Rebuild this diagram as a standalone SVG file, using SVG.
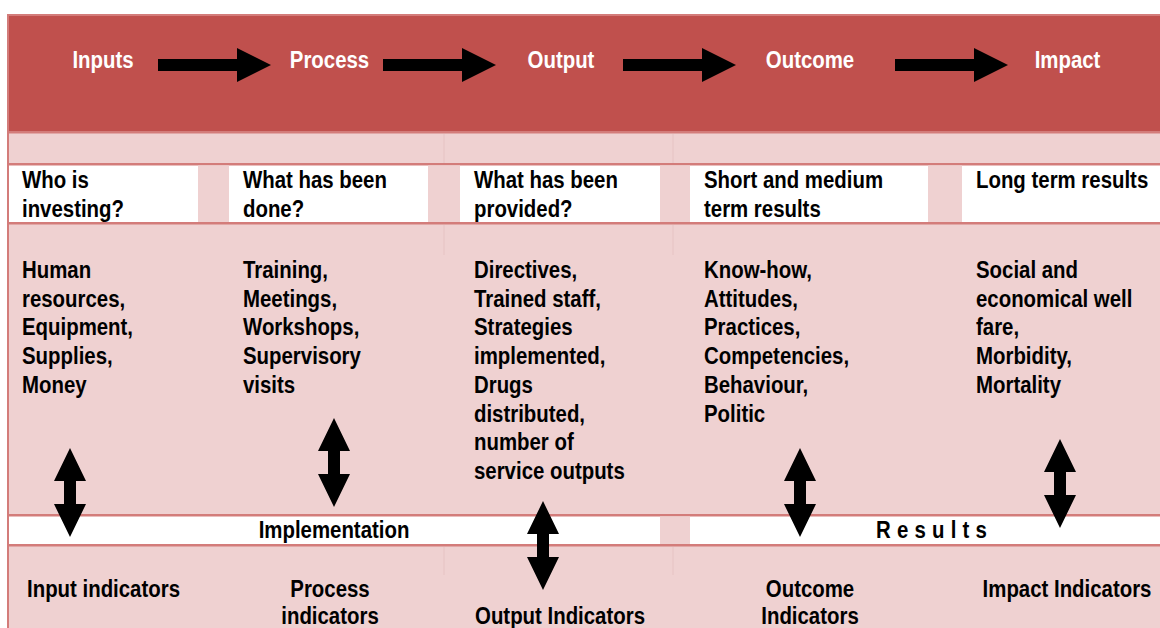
<svg xmlns="http://www.w3.org/2000/svg" xmlns:xlink="http://www.w3.org/1999/xlink" width="1160" height="628" viewBox="0 0 1160 628">
<style>
.band{fill:#C0504D}
.pink{fill:#EFD1D1}
.white{fill:#FFFFFF}
.rule{fill:#D37C7A}
.t{font-family:"Liberation Sans",Arial,sans-serif;font-weight:bold;font-size:24px;fill:#000}
.h{fill:#FFFFFF;text-anchor:middle}
.c{text-anchor:middle}
.arrow{fill:#000}
.faint{stroke:#E6C3C3;stroke-width:1}
</style>
<defs>
<path id="harrow" d="M0,-6 H79 V-17 L113,0 L79,17 V6 H0 Z"/>
<path id="darrow" d="M0,0 L16,33 H6 V56 H16 L0,89 L-16,56 H-6 V33 H-16 Z"/>
</defs>
<rect width="1160" height="628" class="white"/>
<g id="table">
<rect x="7" y="14" width="1153" height="614" class="rule"/>
<rect x="9" y="16" width="1151" height="115" class="band"/>
<rect x="9" y="133.5" width="1151" height="29.5" class="pink"/>
<rect x="9" y="165.5" width="1151" height="56.5" class="white"/>
<rect x="198" y="165.5" width="31" height="56.5" class="pink"/>
<rect x="428" y="165.5" width="32" height="56.5" class="pink"/>
<rect x="660" y="165.5" width="30" height="56.5" class="pink"/>
<rect x="928" y="165.5" width="34" height="56.5" class="pink"/>
<rect x="9" y="224.5" width="1151" height="289.5" class="pink"/>
<rect x="9" y="516.5" width="1151" height="27.5" class="white"/>
<rect x="660" y="516.5" width="30" height="27.5" class="pink"/>
<rect x="9" y="546.5" width="1151" height="81.5" class="pink"/>
<line x1="444" y1="134" x2="444" y2="163" class="faint"/>
<line x1="673" y1="134" x2="673" y2="163" class="faint"/>
<line x1="444" y1="225" x2="444" y2="255" class="faint"/>
<line x1="673" y1="225" x2="673" y2="255" class="faint"/>
<line x1="444" y1="547" x2="444" y2="575" class="faint"/>
<line x1="673" y1="547" x2="673" y2="575" class="faint"/>
</g>
<g id="stage-inputs"><text class="t h" transform="translate(103,68) scale(.85 1)">Inputs</text></g>
<g id="stage-process"><text class="t h" transform="translate(329.5,68) scale(.85 1)">Process</text></g>
<g id="stage-output"><text class="t h" transform="translate(561,68) scale(.85 1)">Output</text></g>
<g id="stage-outcome"><text class="t h" transform="translate(810,68) scale(.85 1)">Outcome</text></g>
<g id="stage-impact"><text class="t h" transform="translate(1067.5,68) scale(.85 1)">Impact</text></g>
<g id="q-inputs"><text class="t" transform="translate(22,188) scale(.85 1)">Who is</text><text class="t" transform="translate(22,216.5) scale(.85 1)">investing?</text></g>
<g id="q-process"><text class="t" transform="translate(243,188) scale(.85 1)">What has been</text><text class="t" transform="translate(243,216.5) scale(.85 1)">done?</text></g>
<g id="q-output"><text class="t" transform="translate(474,188) scale(.85 1)">What has been</text><text class="t" transform="translate(474,216.5) scale(.85 1)">provided?</text></g>
<g id="q-outcome"><text class="t" transform="translate(704,188) scale(.85 1)">Short and medium</text><text class="t" transform="translate(704,216.5) scale(.85 1)">term results</text></g>
<g id="q-impact"><text class="t" transform="translate(976,188) scale(.85 1)">Long term results</text></g>
<g id="c-inputs">
<text class="t" transform="translate(22,278) scale(.85 1)">Human</text>
<text class="t" transform="translate(22,306.7) scale(.85 1)">resources,</text>
<text class="t" transform="translate(22,335.4) scale(.85 1)">Equipment,</text>
<text class="t" transform="translate(22,364.1) scale(.85 1)">Supplies,</text>
<text class="t" transform="translate(22,392.8) scale(.85 1)">Money</text>
</g>
<g id="c-process">
<text class="t" transform="translate(243,278) scale(.85 1)">Training,</text>
<text class="t" transform="translate(243,306.7) scale(.85 1)">Meetings,</text>
<text class="t" transform="translate(243,335.4) scale(.85 1)">Workshops,</text>
<text class="t" transform="translate(243,364.1) scale(.85 1)">Supervisory</text>
<text class="t" transform="translate(243,392.8) scale(.85 1)">visits</text>
</g>
<g id="c-output">
<text class="t" transform="translate(474,278) scale(.85 1)">Directives,</text>
<text class="t" transform="translate(474,306.7) scale(.85 1)">Trained staff,</text>
<text class="t" transform="translate(474,335.4) scale(.85 1)">Strategies</text>
<text class="t" transform="translate(474,364.1) scale(.85 1)">implemented,</text>
<text class="t" transform="translate(474,392.8) scale(.85 1)">Drugs</text>
<text class="t" transform="translate(474,421.5) scale(.85 1)">distributed,</text>
<text class="t" transform="translate(474,450.2) scale(.85 1)">number of</text>
<text class="t" transform="translate(474,478.9) scale(.85 1)">service outputs</text>
</g>
<g id="c-outcome">
<text class="t" transform="translate(704,278) scale(.85 1)">Know-how,</text>
<text class="t" transform="translate(704,306.7) scale(.85 1)">Attitudes,</text>
<text class="t" transform="translate(704,335.4) scale(.85 1)">Practices,</text>
<text class="t" transform="translate(704,364.1) scale(.85 1)">Competencies,</text>
<text class="t" transform="translate(704,392.8) scale(.85 1)">Behaviour,</text>
<text class="t" transform="translate(704,421.5) scale(.85 1)">Politic</text>
</g>
<g id="c-impact">
<text class="t" transform="translate(976,278) scale(.85 1)">Social and</text>
<text class="t" transform="translate(976,306.7) scale(.85 1)">economical well</text>
<text class="t" transform="translate(976,335.4) scale(.85 1)">fare,</text>
<text class="t" transform="translate(976,364.1) scale(.85 1)">Morbidity,</text>
<text class="t" transform="translate(976,392.8) scale(.85 1)">Mortality</text>
</g>
<g id="phase-implementation"><text class="t c" transform="translate(334,538) scale(.85 1)">Implementation</text></g>
<g id="phase-results"><text class="t" transform="translate(876,538) scale(.85 1)" letter-spacing="7.3">Results</text></g>
<g id="ind-inputs"><text class="t c" transform="translate(103.5,597) scale(.85 1)">Input indicators</text></g>
<g id="ind-process"><text class="t c" transform="translate(330,597) scale(.85 1)">Process</text><text class="t c" transform="translate(330,623.5) scale(.85 1)">indicators</text></g>
<g id="ind-output"><text class="t c" transform="translate(560,623.5) scale(.85 1)">Output Indicators</text></g>
<g id="ind-outcome"><text class="t c" transform="translate(810,597) scale(.85 1)">Outcome</text><text class="t c" transform="translate(810,623.5) scale(.85 1)">Indicators</text></g>
<g id="ind-impact"><text class="t c" transform="translate(1067,597) scale(.85 1)">Impact Indicators</text></g>
<g id="connectors" class="arrow">
<use xlink:href="#harrow" x="158" y="65"/>
<use xlink:href="#harrow" x="383" y="65"/>
<use xlink:href="#harrow" x="623" y="65"/>
<use xlink:href="#harrow" x="895" y="65"/>
<use xlink:href="#darrow" x="70" y="448"/>
<use xlink:href="#darrow" x="334" y="418"/>
<use xlink:href="#darrow" x="543" y="501"/>
<use xlink:href="#darrow" x="800" y="448"/>
<use xlink:href="#darrow" x="1060" y="439"/>
</g>
</svg>
